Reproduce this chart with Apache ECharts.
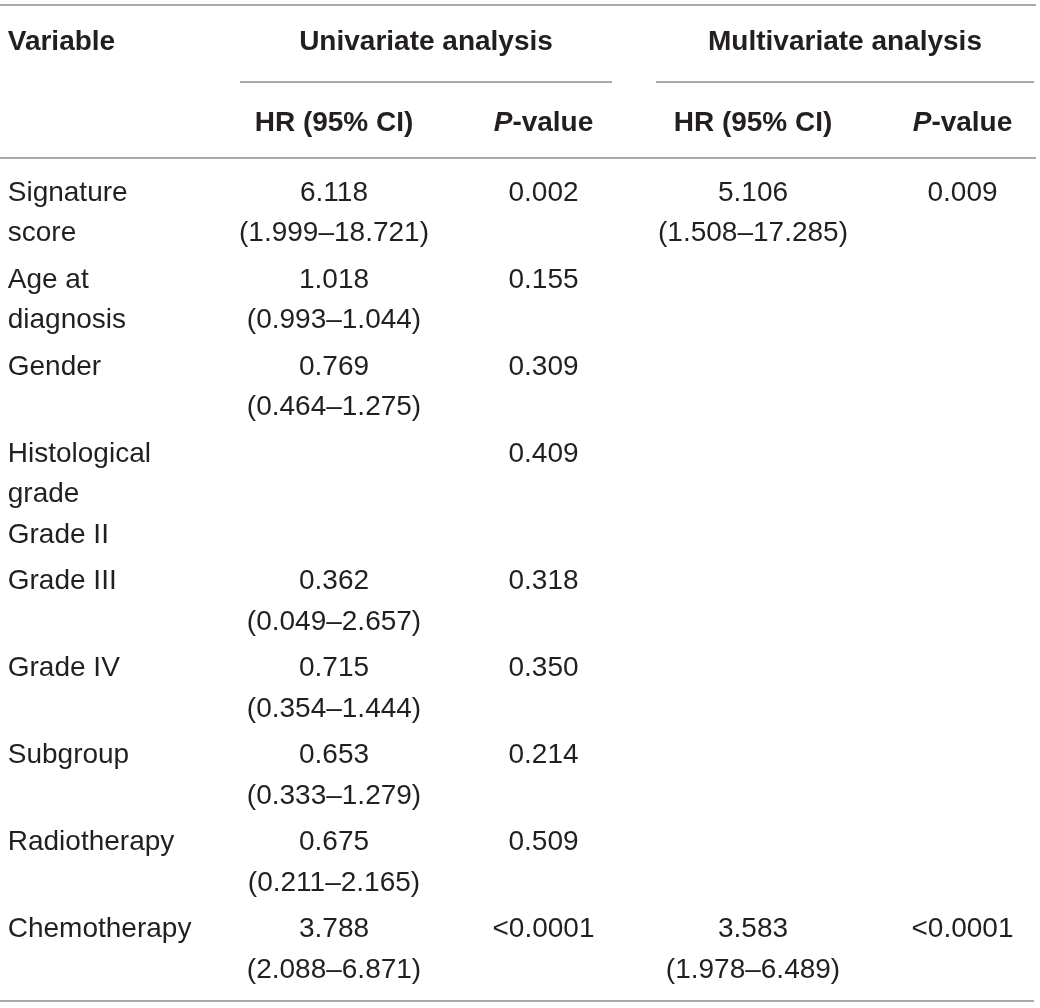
<!DOCTYPE html>
<html>
<head>
<meta charset="utf-8">
<script src="https://cdn.jsdelivr.net/npm/echarts@6/dist/echarts.min.js"></script>
<style>
  html, body { margin: 0; padding: 0; background: #fff; }
  #table_chart { width: 1040px; height: 1008px; }
</style>
</head>
<body>
<div id="table_chart"></div>
<script>
// 表格数据
var columns = ['Variable', 'HR (95% CI)', '{i|P}-value', 'HR (95% CI)', '{i|P}-value']
var groups = ['Univariate analysis', 'Multivariate analysis']
var variables = ['Signature\nscore', 'Age at\ndiagnosis', 'Gender', 'Histological\ngrade\nGrade II',
  'Grade III', 'Grade IV', 'Subgroup', 'Radiotherapy', 'Chemotherapy']
var uniHR = ['6.118', '1.018', '0.769', '', '0.362', '0.715', '0.653', '0.675', '3.788']
var uniCI = ['1.999–18.721', '0.993–1.044', '0.464–1.275', '', '0.049–2.657', '0.354–1.444',
  '0.333–1.279', '0.211–2.165', '2.088–6.871']
var uniP = ['0.002', '0.155', '0.309', '0.409', '0.318', '0.350', '0.214', '0.509', '<0.0001']
var multiHR = ['5.106', '', '', '', '', '', '', '', '3.583']
var multiCI = ['1.508–17.285', '', '', '', '', '', '', '', '1.978–6.489']
var multiP = ['0.009', '', '', '', '', '', '', '', '<0.0001']

;(function () {
  var chart = echarts.init(document.getElementById('table_chart'))

  var textColor = '#231f20'
  var ruleColor = '#8c8c8c'
  var fontFamily = '"Liberation Sans", Arial, sans-serif'

  // 行布局（像素）
  var headY = 42
  var subHeadY = 123
  var firstLineY = 193
  var linePitch = 40.5
  var rowGap = 6

  // 单元格: [列, y, 文本, 粗体]
  var cells = []
  cells.push([0, headY, columns[0], 1])
  for (var c = 1; c < columns.length; c++) {
    cells.push([c, subHeadY, columns[c], 1])
  }
  var y = firstLineY
  variables.forEach(function (name, i) {
    var parts = name.split('\n')
    parts.forEach(function (p, k) {
      cells.push([0, y + k * linePitch, p, 0])
    })
    var lines = parts.length
    if (uniHR[i]) {
      cells.push([1, y, uniHR[i], 0])
      cells.push([1, y + linePitch, '(' + uniCI[i] + ')', 0])
      lines = Math.max(lines, 2)
    }
    if (uniP[i]) cells.push([2, y, uniP[i], 0])
    if (multiHR[i]) {
      cells.push([3, y, multiHR[i], 0])
      cells.push([3, y + linePitch, '(' + multiCI[i] + ')', 0])
      lines = Math.max(lines, 2)
    }
    if (multiP[i]) cells.push([4, y, multiP[i], 0])
    y += lines * linePitch + rowGap
  })

  var rule = function (x1, x2, yy) {
    return {
      type: 'line',
      shape: { x1: x1, y1: yy, x2: x2, y2: yy },
      style: { stroke: ruleColor, lineWidth: 1.6 },
      silent: true
    }
  }
  var groupTitle = function (text, cx) {
    return {
      type: 'text',
      x: cx,
      y: headY,
      style: {
        text: text,
        align: 'center',
        verticalAlign: 'middle',
        fontFamily: fontFamily,
        fontSize: 28,
        fontWeight: 'bold',
        fill: textColor
      },
      silent: true
    }
  }

  var option = {
    animation: false,
    backgroundColor: '#fff',
    grid: { left: 124.5, right: 77.5, top: 0, bottom: 0 },
    xAxis: {
      type: 'category',
      data: columns,
      boundaryGap: false,
      show: false
    },
    yAxis: {
      type: 'value',
      min: 0,
      max: 1008,
      inverse: true,
      show: false
    },
    graphic: [
      rule(0, 1036, 5),
      rule(240, 612, 82),
      rule(656, 1034, 82),
      rule(0, 1036, 158),
      rule(0, 1034, 1001),
      groupTitle(groups[0], 426),
      groupTitle(groups[1], 845)
    ],
    series: [
      {
        type: 'custom',
        silent: true,
        data: cells,
        renderItem: function (params, api) {
          var col = api.value(0)
          var pt = api.coord([col, api.value(1)])
          var cell = cells[params.dataIndex]
          var x = pt[0]
          var align = 'center'
          if (col === 0) {
            var pitch = api.coord([1, 0])[0] - api.coord([0, 0])[0]
            x = pt[0] - pitch / 2 - 12
            align = 'left'
          }
          return {
            type: 'text',
            x: x,
            y: pt[1],
            style: {
              text: cell[2],
              align: align,
              verticalAlign: 'middle',
              fontFamily: fontFamily,
              fontSize: 28,
              fontWeight: cell[3] ? 'bold' : 'normal',
              fill: textColor,
              rich: {
                i: {
                  fontFamily: fontFamily,
                  fontSize: 28,
                  fontStyle: 'italic',
                  fontWeight: 'bold',
                  fill: textColor,
                  color: textColor
                }
              }
            }
          }
        }
      }
    ]
  }
  chart.setOption(option)
})()
</script>
</body>
</html>
